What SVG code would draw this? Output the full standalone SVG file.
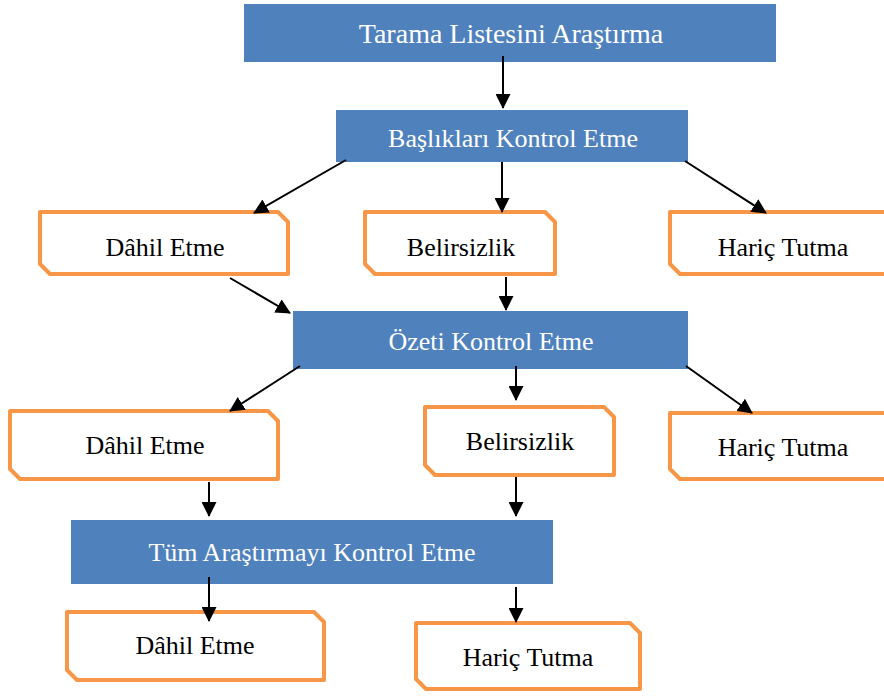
<svg xmlns="http://www.w3.org/2000/svg" width="884" height="697" viewBox="0 0 884 697">
<defs>
<marker id="ah" markerWidth="15" markerHeight="15" refX="14" refY="7.5" orient="auto" markerUnits="userSpaceOnUse">
<path d="M0,0 L15,7.5 L0,15 Z" fill="#000"/>
</marker>
</defs>
<style>
.blue{fill:#4F81BD;}
.or{fill:#fff;stroke:#F79646;stroke-width:4;stroke-linejoin:round;}
.wt{font-family:"Liberation Serif","Times New Roman",serif;font-size:26px;fill:#fff;text-anchor:middle;}
.bt{font-family:"Liberation Serif","Times New Roman",serif;font-size:26px;fill:#000;text-anchor:middle;}
.c{stroke:#000;stroke-width:2;fill:none;marker-end:url(#ah);}
</style>
<rect width="884" height="697" fill="#fff"/>
<g id="n1"><rect class="blue" x="244" y="4" width="532" height="58"/><text class="wt" x="511" y="43" style="font-size:28px">Tarama Listesini Araştırma</text></g>
<g id="n2"><rect class="blue" x="336" y="110" width="352" height="52"/><text class="wt" x="513" y="147">Başlıkları Kontrol Etme</text></g>
<g id="n3"><path class="or" d="M40,212 H278 L288,222 V274 H50 L40,264 Z"/><text class="bt" x="165" y="256">Dâhil Etme</text></g>
<g id="n4"><path class="or" d="M365,212 H545 L555,222 V274 H375 L365,264 Z"/><text class="bt" x="461" y="256">Belirsizlik</text></g>
<g id="n5"><path class="or" d="M670,212 H886 L896,222 V274 H680 L670,264 Z"/><text class="bt" x="783" y="256">Hariç Tutma</text></g>
<g id="n6"><rect class="blue" x="293" y="311" width="395" height="58"/><text class="wt" x="491" y="350">Özeti Kontrol Etme</text></g>
<g id="n7"><path class="or" d="M10,411 H268 L278,421 V479 H20 L10,469 Z"/><text class="bt" x="145" y="454">Dâhil Etme</text></g>
<g id="n8"><path class="or" d="M425,407 H604 L614,417 V475 H435 L425,465 Z"/><text class="bt" x="520" y="450">Belirsizlik</text></g>
<g id="n9"><path class="or" d="M670,413 H886 L896,423 V479 H680 L670,469 Z"/><text class="bt" x="783" y="456">Hariç Tutma</text></g>
<g id="n10"><rect class="blue" x="71" y="520" width="482" height="64"/><text class="wt" x="312" y="561">Tüm Araştırmayı Kontrol Etme</text></g>
<g id="n11"><path class="or" d="M67,612 H314 L324,622 V680 H77 L67,670 Z"/><text class="bt" x="195" y="654">Dâhil Etme</text></g>
<g id="n12"><path class="or" d="M416,623 H630 L640,633 V689 H426 L416,679 Z"/><text class="bt" x="528" y="666">Hariç Tutma</text></g>
<g id="connectors">
<line class="c" x1="503" y1="56" x2="503" y2="108"/>
<line class="c" x1="346" y1="160" x2="254" y2="213"/>
<line class="c" x1="502" y1="162" x2="502" y2="212"/>
<line class="c" x1="685" y1="161" x2="766" y2="213"/>
<line class="c" x1="230" y1="278" x2="290" y2="313"/>
<line class="c" x1="506" y1="277" x2="506" y2="310"/>
<line class="c" x1="300" y1="366" x2="230" y2="411"/>
<line class="c" x1="516" y1="366" x2="516" y2="400"/>
<line class="c" x1="686" y1="366" x2="752" y2="413"/>
<line class="c" x1="209" y1="482" x2="209" y2="516"/>
<line class="c" x1="516" y1="477" x2="516" y2="516"/>
<line class="c" x1="209" y1="577" x2="209" y2="621"/>
<line class="c" x1="516" y1="587" x2="516" y2="622"/>
</g>
</svg>
